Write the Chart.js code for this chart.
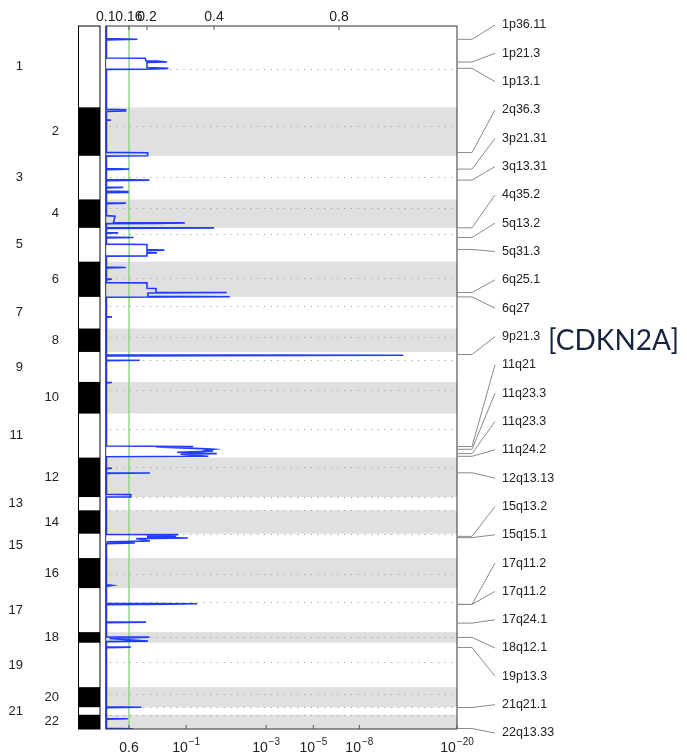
<!DOCTYPE html>
<html>
<head>
<meta charset="utf-8">
<script src="https://cdn.jsdelivr.net/npm/chart.js@4.4.0/dist/chart.umd.min.js"></script>
<style>
  body { margin: 0; background: #fff; }
  #wrap { width: 687px; height: 756px; position: relative; }
</style>
</head>
<body>
<div id="wrap"><canvas id="gisticChart"></canvas></div>
<script>
// chromosomes, in genome index units from the top of the plot
const chromNames = ['1','2','3','4','5','6','7','8','9','10','11','12','13','14','15','16','17','18','19','20','21','22'];
const chromEnds = [81.3, 129.7, 173.3, 201.7, 235.5, 270.7, 302.3, 325.7, 355.7, 387.3, 431.3, 470.7, 484, 507.3, 531.7, 561.7, 605.7, 616.3, 660.7, 680.7, 688.3, 702.5];
const centromeres = [43.3, 99.7, 151, 181.7, 207.7, 251.7, 279.7, 311, 333.5, 363.7, 403, 440.7, 470.9, 484, 507.5, 548, 575.7, 610.7, 635.7, 667.3, 680.8, 688.4];

// G-score axis (top) and q-value axis (bottom)
const gTicks = [0.1, 0.16, 0.2, 0.4, 0.8];
const gTickLabels = ['0.1', '0.16', '0.2', '0.4', '0.8'];
const gAxisValues = [0.1, 0.16, 0.2, 0.4, 0.8, 1.2];
const gAxisFrac = [0, 0.0663, 0.1175, 0.3082, 0.6641, 1];
const qTickG = [0.16, 0.317, 0.567, 0.718, 0.869, 1.2];
const qTickBase = ['0.6', '10', '10', '10', '10', '10'];
const qTickExp = ['', '\u22121', '\u22123', '\u22125', '\u22128', '\u221220'];
const qThresholdG = 0.16;

// G-score profile along the genome
const profilePos = [
  0, 12.5, 13.3, 14.0, 32.0, 32.3, 35.0, 35.0, 36.0, 36.5, 41.5, 42.3, 43.2, 43.3,
  83.2, 83.7, 85.0, 85.3, 93.7, 94.0, 94.5, 126.3, 126.7, 129.7, 130.0,
  142.5, 143.0, 143.6, 153.5, 154.0, 154.6, 161.0, 161.3, 161.8, 165.0, 165.5, 166.3, 166.6,
  176.6, 177.0, 177.6, 189.5, 190.0, 196.5, 196.7, 197.2, 197.5, 201.3, 201.7, 202.2,
  206.4, 206.7, 207.0, 211.0, 211.3, 211.8, 218.0, 218.3, 223.5, 224.0, 224.5, 226.3, 226.7, 227.0, 229.7, 230.0,
  241.0, 241.3, 241.8, 252.7, 253.0, 253.5, 256.4, 256.7, 262.0, 262.3, 266.0, 266.3, 266.8, 270.0, 270.5, 271.0,
  290.4, 290.7, 291.0,
  328.6, 329.0, 329.6, 333.7, 334.0, 334.5,
  356.0, 356.3, 356.8,
  419.7, 420.2, 420.6, 422.6, 423.0, 424.0, 424.7, 426.0, 427.3, 428.0, 430.0, 430.5,
  441.7, 442.0, 442.4, 446.4, 446.7, 447.2, 468.0, 468.3, 470.5, 470.7,
  508.0, 508.3, 509.2, 510.0, 510.8, 511.7, 512.3, 514.7, 515.5, 516.7, 517.3,
  558.5, 559.0, 559.8,
  577.0, 577.3, 577.8, 578.3, 595.4, 595.7, 596.2,
  610.4, 610.7, 612.0, 614.7, 615.2,
  620.4, 620.7, 621.2,
  680.4, 680.7, 681.2,
  692.0, 692.3, 692.8, 701.8, 702.2, 702.5
];
const profileG = [
  0.102, 0.102, 0.179, 0.102, 0.102, 0.196, 0.198, 0.230, 0.260, 0.200, 0.200, 0.264, 0.200, 0.102,
  0.102, 0.151, 0.151, 0.102, 0.102, 0.114, 0.102, 0.102, 0.202, 0.202, 0.102,
  0.102, 0.160, 0.102, 0.102, 0.207, 0.102, 0.102, 0.145, 0.102, 0.102, 0.157, 0.157, 0.102,
  0.102, 0.152, 0.102, 0.102, 0.124, 0.120, 0.313, 0.227, 0.102, 0.102, 0.400, 0.102,
  0.102, 0.132, 0.102, 0.102, 0.170, 0.102, 0.102, 0.200, 0.200, 0.252, 0.200, 0.200, 0.230, 0.200, 0.200, 0.102,
  0.102, 0.152, 0.102, 0.102, 0.116, 0.102, 0.102, 0.200, 0.200, 0.227, 0.227, 0.441, 0.203, 0.203, 0.451, 0.102,
  0.102, 0.116, 0.102,
  0.102, 1.018, 0.102, 0.102, 0.184, 0.102,
  0.102, 0.116, 0.102,
  0.102, 0.338, 0.227, 0.378, 0.400, 0.380, 0.397, 0.290, 0.409, 0.300, 0.383, 0.102,
  0.102, 0.116, 0.102, 0.102, 0.209, 0.102, 0.102, 0.164, 0.164, 0.102,
  0.102, 0.294, 0.200, 0.287, 0.200, 0.322, 0.176, 0.209, 0.102, 0.173, 0.102,
  0.102, 0.116, 0.102,
  0.102, 0.350, 0.269, 0.102, 0.102, 0.198, 0.102,
  0.102, 0.207, 0.110, 0.203, 0.102,
  0.102, 0.164, 0.102,
  0.102, 0.188, 0.102,
  0.102, 0.157, 0.102, 0.102, 0.169, 0.102
];

// significant peaks (cytoband labels on the right)
const peakBands = ['1p36.11', '1p21.3', '1p13.1', '2q36.3', '3p21.31', '3q13.31', '4q35.2', '5q13.2', '5q31.3',
  '6q25.1', '6q27', '9p21.3', '11q21', '11q23.3', '11q23.3', '11q24.2', '12q13.13', '15q13.2', '15q15.1',
  '17q11.2', '17q11.2', '17q24.1', '18q12.1', '19p13.3', '21q21.1', '22q13.33'];
const peakPos = [13.3, 36, 42.3, 126.5, 143, 154, 201.7, 211.3, 223.3, 266.3, 270.7, 328.3, 420.2, 423, 427.3, 430,
  446.5, 510, 511.3, 578, 578, 596.7, 611, 621, 681, 702];
const geneNote = '[CDKN2A]';

const genomeEnd = chromEnds[chromEnds.length - 1];
const profile = profilePos.map((p, i) => ({ x: profileG[i], y: p }));

function interp(v, xs, ys) {
  let i = 1;
  while (i < xs.length - 1 && v > xs[i]) i++;
  return ys[i - 1] + (v - xs[i - 1]) * (ys[i] - ys[i - 1]) / (xs[i] - xs[i - 1]);
}

// G-score axis is not evenly spaced, so map it through the tick calibration
class GScoreScale extends Chart.LinearScale {
  getPixelForValue(value) {
    return this.getPixelForDecimal(interp(value, gAxisValues, gAxisFrac));
  }
  getValueForPixel(pixel) {
    return interp(this.getDecimalForPixel(pixel), gAxisFrac, gAxisValues);
  }
}
GScoreScale.id = 'gscore';
GScoreScale.defaults = Chart.LinearScale.defaults;
Chart.register(GScoreScale);

const textFont = '"Liberation Sans", Arial, sans-serif';

const gisticDecor = {
  id: 'gisticDecor',
  beforeDraw(chart) {
    const ctx = chart.ctx;
    ctx.save();
    ctx.fillStyle = '#fff';
    ctx.fillRect(0, 0, chart.width, chart.height);
    ctx.restore();
  },
  beforeDatasetsDraw(chart) {
    const { ctx, chartArea: a, scales: { x, y } } = chart;
    ctx.save();
    // shade even chromosomes
    ctx.fillStyle = '#e0e0e0';
    chromEnds.forEach((end, i) => {
      if (i % 2 === 1) {
        const top = y.getPixelForValue(chromEnds[i - 1]);
        const bot = y.getPixelForValue(end);
        ctx.fillRect(a.left, top, a.right - a.left, bot - top);
      }
    });
    // centromeres
    ctx.strokeStyle = '#a0a0a0';
    ctx.lineWidth = 1;
    ctx.setLineDash([1.2, 5.5]);
    centromeres.forEach(c => {
      const py = Math.round(y.getPixelForValue(c)) + 0.5;
      ctx.beginPath();
      ctx.moveTo(a.left + 4, py);
      ctx.lineTo(a.right, py);
      ctx.stroke();
    });
    ctx.setLineDash([]);
    // q-value threshold
    const tx = x.getPixelForValue(qThresholdG);
    ctx.fillStyle = '#8fd884';
    ctx.fillRect(tx - 0.75, a.top, 1.5, a.bottom - a.top);
    ctx.restore();
  },
  afterDatasetsDraw(chart) {
    const { ctx, chartArea: a, scales: { x, y } } = chart;
    ctx.save();
    // frame
    ctx.strokeStyle = '#333';
    ctx.lineWidth = 1;
    ctx.strokeRect(a.left, a.top, a.right - a.left, a.bottom - a.top);
    // inward tick marks
    ctx.strokeStyle = '#555';
    gTicks.forEach(v => {
      const px = x.getPixelForValue(v);
      ctx.beginPath(); ctx.moveTo(px, a.top); ctx.lineTo(px, a.top + 4); ctx.stroke();
    });
    qTickG.forEach(v => {
      const px = x.getPixelForValue(v);
      ctx.beginPath(); ctx.moveTo(px, a.bottom); ctx.lineTo(px, a.bottom - 4); ctx.stroke();
    });

    // q-value labels
    ctx.fillStyle = '#222';
    ctx.textBaseline = 'alphabetic';
    qTickG.forEach((v, i) => {
      const px = x.getPixelForValue(v);
      ctx.font = '14px ' + textFont;
      const wb = ctx.measureText(qTickBase[i]).width;
      ctx.font = '10px ' + textFont;
      const we = qTickExp[i] ? ctx.measureText(qTickExp[i]).width + 1 : 0;
      const left = px - (wb + we) / 2;
      ctx.textAlign = 'left';
      ctx.font = '14px ' + textFont;
      ctx.fillText(qTickBase[i], left, 752);
      if (qTickExp[i]) {
        ctx.font = '10px ' + textFont;
        ctx.fillText(qTickExp[i], left + wb + 1, 745);
      }
    });

    // chromosome bar
    const bx0 = 78.5, bx1 = 100;
    ctx.fillStyle = '#fff';
    ctx.fillRect(bx0, a.top, bx1 - bx0, a.bottom - a.top);
    ctx.fillStyle = '#000';
    chromEnds.forEach((end, i) => {
      if (i % 2 === 1) {
        const top = y.getPixelForValue(chromEnds[i - 1]);
        ctx.fillRect(bx0, top, bx1 - bx0, y.getPixelForValue(end) - top);
      }
    });
    ctx.strokeStyle = '#000';
    ctx.strokeRect(bx0, a.top, bx1 - bx0, a.bottom - a.top);

    // chromosome numbers
    ctx.font = '13px ' + textFont;
    ctx.textAlign = 'right';
    ctx.textBaseline = 'middle';
    ctx.fillStyle = '#222';
    chromNames.forEach((name, i) => {
      const start = i === 0 ? 0 : chromEnds[i - 1];
      const mid = y.getPixelForValue((start + chromEnds[i]) / 2);
      ctx.fillText(name, i % 2 === 0 ? 23 : 59, mid);
    });

    // peak labels with leader lines
    const firstY = 25, step = (733 - 25) / (peakBands.length - 1);
    ctx.strokeStyle = '#8a8a8a';
    ctx.font = '12.5px ' + textFont;
    ctx.textAlign = 'left';
    peakBands.forEach((band, i) => {
      const py = y.getPixelForValue(peakPos[i]);
      const ly = firstY + i * step;
      ctx.beginPath();
      ctx.moveTo(a.right, py);
      ctx.lineTo(472, py);
      ctx.lineTo(495, ly);
      ctx.stroke();
      ctx.fillText(band, 502, ly);
    });

    // gene annotation
    ctx.font = '28px Lato, "Open Sans", sans-serif';
    ctx.fillStyle = '#17243f';
    ctx.fillText(geneNote, 548, 341);
    ctx.restore();
  }
};

new Chart(document.getElementById('gisticChart'), {
  type: 'scatter',
  data: {
    datasets: [{
      data: profile,
      showLine: true,
      borderColor: 'rgba(15,45,255,0.92)',
      borderWidth: 1.6,
      pointRadius: 0,
      tension: 0
    }]
  },
  options: {
    responsive: true,
    maintainAspectRatio: false,
    animation: false,
    layout: { padding: { left: 0, right: 230, top: 0, bottom: 27 } },
    plugins: { legend: { display: false }, tooltip: { enabled: false } },
    scales: {
      x: {
        type: 'gscore',
        position: 'top',
        min: 0.1,
        max: 1.2,
        afterBuildTicks: s => { s.ticks = gTicks.map(v => ({ value: v })); },
        afterFit: s => { s.height = 26; },
        grid: { display: false, drawTicks: false },
        border: { display: false },
        ticks: {
          autoSkip: false, maxRotation: 0, minRotation: 0, padding: 0,
          color: '#222', font: { family: textFont, size: 14 },
          callback: (v, i) => gTickLabels[i]
        }
      },
      y: {
        type: 'linear',
        reverse: true,
        min: 0,
        max: genomeEnd,
        afterFit: s => { s.width = 105.7; },
        grid: { display: false, drawTicks: false },
        border: { display: false },
        ticks: { display: false }
      }
    }
  },
  plugins: [gisticDecor]
});
</script>
</body>
</html>
